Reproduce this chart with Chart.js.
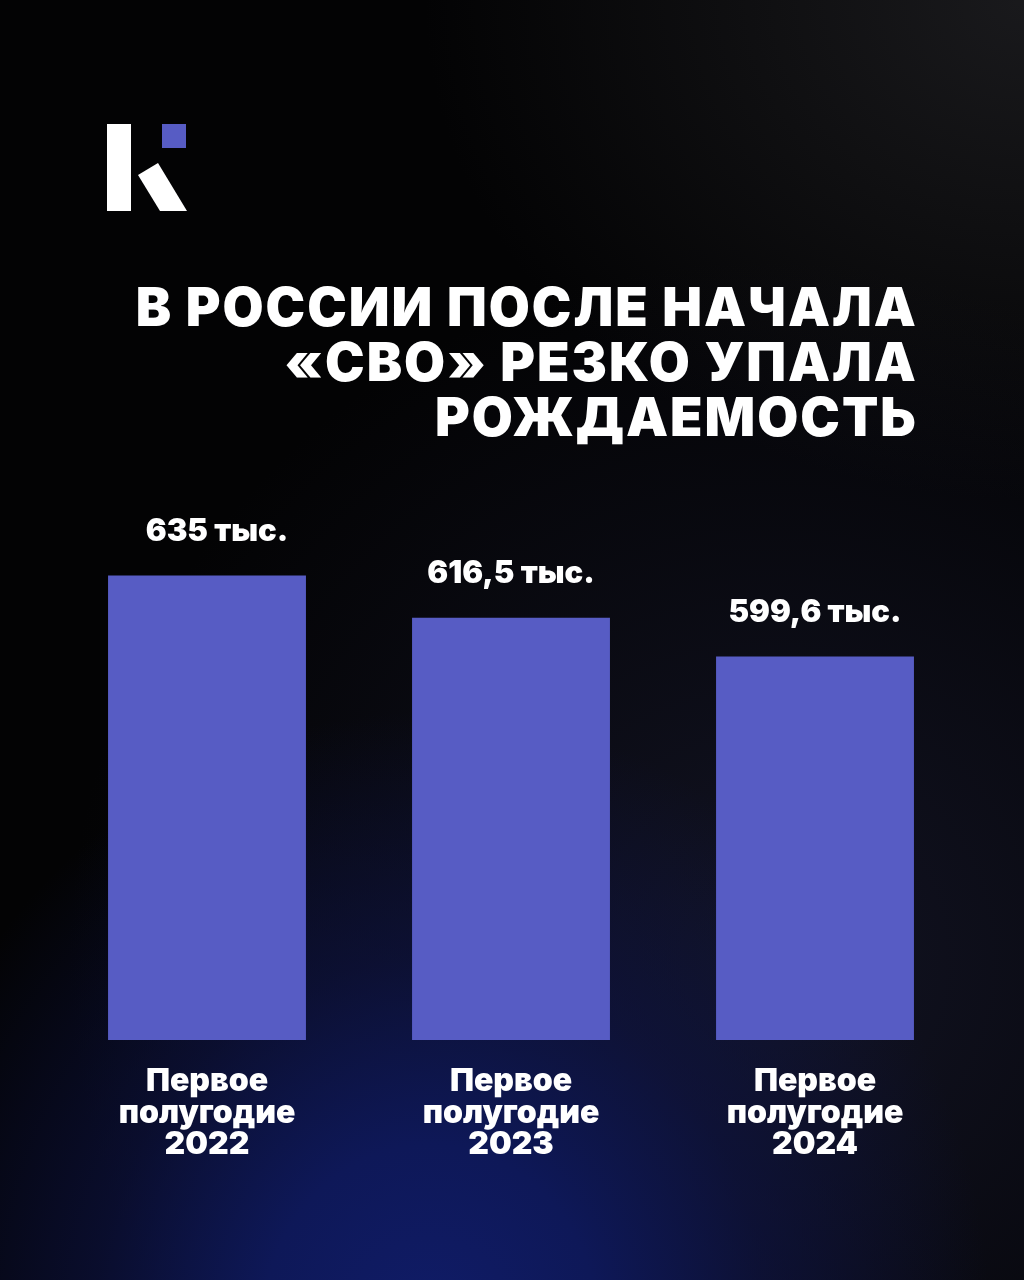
<!DOCTYPE html>
<html lang="ru">
<head>
<meta charset="utf-8">
<script src="https://cdn.jsdelivr.net/npm/chart.js@4/dist/chart.umd.min.js"></script>
<style>
    html, body {
        margin: 0;
        padding: 0;
    }
    body {
        width: 1024px;
        height: 1280px;
        position: relative;
        overflow: hidden;
        font-family: "Inter", "Noto Sans", sans-serif;
        background:
            radial-gradient(ellipse 560px 620px at 42% 104%, #101c68 0%, #0e1858 30%, rgba(14, 20, 72, 0.6) 60%, rgba(0, 0, 0, 0) 100%),
            radial-gradient(ellipse 700px 700px at 75% 75%, rgba(30, 32, 60, 0.55) 0%, rgba(0, 0, 0, 0) 100%),
            radial-gradient(ellipse 600px 500px at 100% 0%, rgba(40, 40, 44, 0.6) 0%, rgba(0, 0, 0, 0) 100%),
            #030304;
    }
    #logo {
        position: absolute;
        left: 0;
        top: 0;
    }
    #title {
        position: absolute;
        right: 106px;
        top: 280px;
        margin: 0;
        color: #ffffff;
        font-size: 53px;
        font-weight: 900;
        line-height: 55px;
        text-align: right;
        letter-spacing: 2px;
        white-space: nowrap;
    }
    #chart-wrap {
        position: absolute;
        left: 0;
        top: 460px;
        width: 1024px;
        height: 720px;
    }
</style>
</head>
<body>
<svg id="logo" width="220" height="230">
    <rect x="107" y="124" width="24" height="87" fill="#ffffff"/>
    <polygon points="138,175 158,163 187,211 160,211" fill="#ffffff"/>
    <rect x="162" y="124" width="24" height="24" fill="#575cc4"/>
</svg>
<h1 id="title">В РОССИИ ПОСЛЕ НАЧАЛА<br>«СВО» РЕЗКО УПАЛА<br>РОЖДАЕМОСТЬ</h1>
<div id="chart-wrap"><canvas id="birth-chart"></canvas></div>
<script>
// категории (многострочные подписи)
const categories = [
    ["Первое", "полугодие", "2022"],
    ["Первое", "полугодие", "2023"],
    ["Первое", "полугодие", "2024"]
];
// родилось, тыс. человек
const births = [635, 616.5, 599.6];
const unitLabel = "тыс.";

// подписи значений над столбцами
const valueLabelPlugin = {
    id: "valueLabels",
    afterDatasetsDraw(chart) {
        const { ctx } = chart;
        const meta = chart.getDatasetMeta(0);
        // первая подпись в макете чуть смещена вправо
        const shiftX = [10, 0, 0];
        ctx.save();
        ctx.fillStyle = "#ffffff";
        ctx.font = "900 31px Inter, 'Noto Sans', sans-serif";
        ctx.textAlign = "center";
        ctx.textBaseline = "middle";
        meta.data.forEach((bar, i) => {
            const text = births[i].toLocaleString("ru-RU") + " " + unitLabel;
            ctx.fillText(text, bar.x + shiftX[i], bar.y - 44);
        });
        ctx.restore();
    }
};

new Chart(document.getElementById("birth-chart"), {
    type: "bar",
    data: {
        labels: categories,
        datasets: [
            {
                data: births,
                backgroundColor: "#575cc4",
                borderWidth: 0,
                categoryPercentage: 1,
                barPercentage: 0.651
            }
        ]
    },
    options: {
        responsive: true,
        maintainAspectRatio: false,
        animation: false,
        layout: {
            padding: {
                left: 55,
                right: 57,
                top: 40,
                bottom: 0
            }
        },
        scales: {
            y: {
                display: false,
                min: 432,
                max: 668
            },
            x: {
                grid: {
                    display: false,
                    drawTicks: false
                },
                border: {
                    display: false
                },
                ticks: {
                    color: "#ffffff",
                    padding: 26,
                    font: {
                        family: "Inter, 'Noto Sans', sans-serif",
                        size: 32,
                        weight: 900,
                        lineHeight: 0.98
                    }
                },
                afterFit(scale) {
                    scale.height = 140;
                }
            }
        },
        plugins: {
            legend: {
                display: false
            },
            tooltip: {
                enabled: false
            }
        }
    },
    plugins: [
        valueLabelPlugin
    ]
});
</script>
</body>
</html>
